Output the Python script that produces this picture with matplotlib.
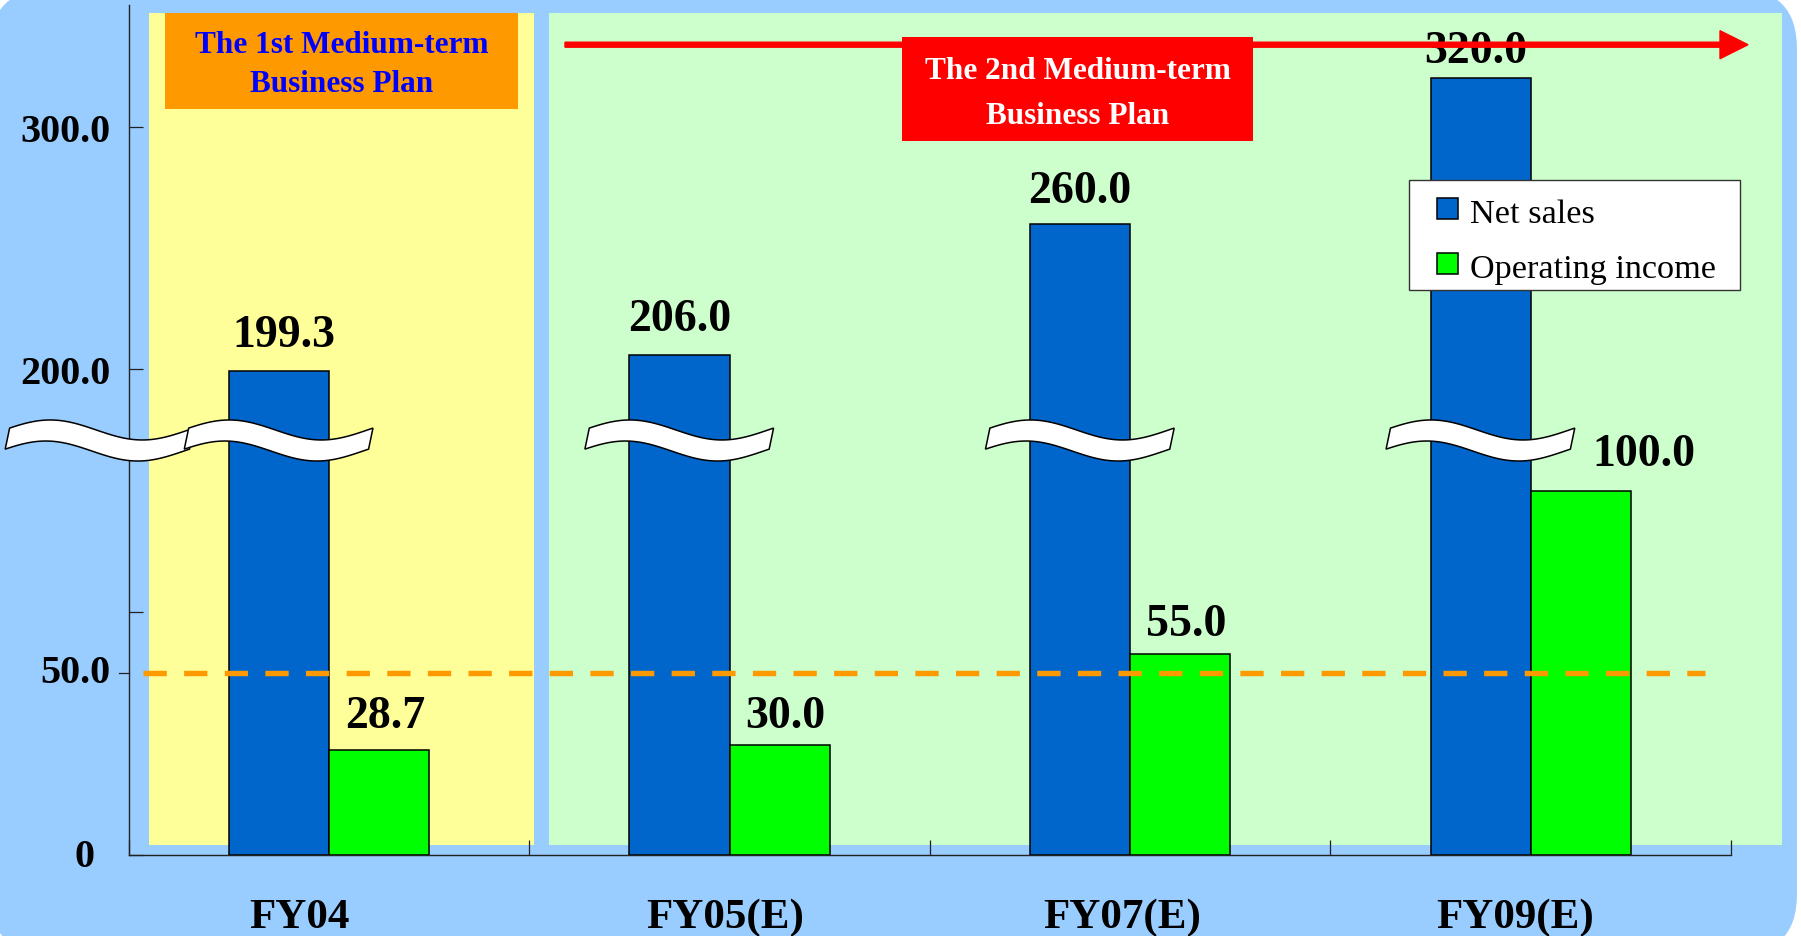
import numpy as np
import matplotlib
matplotlib.use("Agg")
import matplotlib.pyplot as plt
import matplotlib.patches as mpatches
import matplotlib.transforms as mtransforms

plt.rcParams['font.family'] = ['Liberation Serif', 'DejaVu Serif']

categories = ["FY04", "FY05(E)", "FY07(E)", "FY09(E)"]
net_sales = [199.3, 206.0, 260.0, 320.0]
operating_income = [28.7, 30.0, 55.0, 100.0]
income_scale = 1.5      # operating income is drawn 1.5x on the shared axis
income_ref = 50.0       # dashed reference level for operating income
y_ticks = [0, 100, 200, 300]
y_tick_labels = ["", "", "200.0", "300.0"]
series_names = ["Net sales", "Operating income"]
break_level = 175       # where the wavy break marks sit

BLUE_BG = "#99CCFF"
BAR_BLUE = "#0066CC"
BAR_GREEN = "#00FF00"
ORANGE = "#FF9900"
RED = "#FF0000"

W, H = 1801, 937
fig = plt.figure(figsize=(W / 100, H / 100), dpi=100, facecolor="white")
px = mtransforms.IdentityTransform()


def rect_px(x0, y0, x1, y1, color, z, edge="none", lw=0):
    # rectangle given in image pixels (origin top-left)
    fig.patches.append(mpatches.Rectangle((x0, H - y1), x1 - x0, y1 - y0, transform=px,
                                          facecolor=color, edgecolor=edge, linewidth=lw, zorder=z))


# rounded blue background
fig.patches.append(mpatches.FancyBboxPatch((-10, -18), 1807, 965, boxstyle="round,pad=0,rounding_size=60",
                                           transform=px, facecolor=BLUE_BG, edgecolor="none", zorder=-10))
rect_px(149, 14, 534, 846, "#FFFF99", -5)
rect_px(549, 14, 1782, 846, "#CCFFCC", -5)

ax = fig.add_axes([128.6 / W, (H - 855.7) / H, 1602.4 / W, 350 * 2.427 / H])
ax.patch.set_alpha(0)
x = np.arange(len(categories))
bw = 0.25
b1 = ax.bar(x - bw / 2, net_sales, bw, color=BAR_BLUE, edgecolor="black", linewidth=1.1, zorder=2)
b2 = ax.bar(x + bw / 2, np.array(operating_income) * income_scale, bw, color=BAR_GREEN,
            edgecolor="black", linewidth=1.1, zorder=2)
ax.set_xlim(-0.5, len(categories) - 0.5)
ax.set_ylim(0, 350)

for s in ["top", "right"]:
    ax.spines[s].set_visible(False)
for s in ["left", "bottom"]:
    ax.spines[s].set_linewidth(1.0)
    ax.spines[s].set_color("#222222")

ax.set_yticks(y_ticks)
ax.set_yticklabels(y_tick_labels, fontsize=29, fontweight="bold")
ax.tick_params(axis="y", direction="in", length=10, width=0.9, pad=12.7, color="#222222")
ax.set_xticks(np.arange(len(categories) + 1) - 0.5)
ax.set_xticklabels([])
ax.tick_params(axis="x", direction="in", length=11, width=0.9, color="#222222")

# y labels placed by hand
ax.annotate("0", xy=(0, 0), xycoords=("axes fraction", "data"), xytext=(-34, -2), textcoords="offset pixels",
            ha="right", va="center", fontsize=29, fontweight="bold")
ax.annotate("50.0", xy=(0, income_ref * income_scale), xycoords=("axes fraction", "data"), xytext=(-18, 0),
            textcoords="offset pixels", ha="right", va="center", fontsize=29, fontweight="bold")
blend = mtransforms.blended_transform_factory(ax.transAxes, ax.transData)
ax.plot([-10 / 1602.4, 0], [income_ref * income_scale] * 2, color="#222222", lw=0.9, transform=blend, clip_on=False)

# dashed reference line
ax.plot([-0.464, 3.435], [income_ref * income_scale] * 2, color=ORANGE, lw=3.9,
        linestyle=(0, (4.3, 3.2)), zorder=4)

# category labels
cat_dx = [-29, -4, -8, -16]
for i, c in enumerate(categories):
    ax.annotate(c, xy=(i, 0), xytext=(cat_dx[i], -72), textcoords="offset pixels", ha="center",
                va="baseline", fontsize=31, fontweight="bold", annotation_clip=False)

# value labels
sales_off = [(5, 25), (0, 25), (0, 22), (-5, 16)]
income_off = [(6, 23), (6, 18), (6, 19), (63, 26)]
for i, v in enumerate(net_sales):
    ax.annotate(f"{v:.1f}", xy=(x[i] - bw / 2, v), xytext=sales_off[i], textcoords="offset pixels",
                ha="center", va="baseline", fontsize=33, fontweight="bold", zorder=3)
for i, v in enumerate(operating_income):
    ax.annotate(f"{v:.1f}", xy=(x[i] + bw / 2, v * income_scale), xytext=income_off[i], textcoords="offset pixels",
                ha="center", va="baseline", fontsize=33, fontweight="bold", zorder=3)


# wavy break marks
def ribbon(x0, z):
    t = np.linspace(0, 1, 80)
    w = 0.46
    top_x = x0 + t * w
    top_y = break_level + 4.12 * np.cos(2 * np.pi * (t - 0.22))
    bot_x = top_x - 0.011
    bot_y = top_y - 8.67
    pts = np.vstack([np.column_stack([top_x, top_y]), np.column_stack([bot_x, bot_y])[::-1]])
    ax.add_patch(mpatches.Polygon(pts, closed=True, facecolor="white", edgecolor="black",
                                  linewidth=1.1, zorder=z, clip_on=False))


ribbon(-0.797, 5)
for i in x:
    ribbon(i - 0.35, 6)

# legend box
rect_px(1409, 181, 1740, 291, "white", 8, edge="#333333", lw=1.0)
for j, (name, col) in enumerate(zip(series_names, [BAR_BLUE, BAR_GREEN])):
    top = 199 + 55 * j
    rect_px(1437, top, 1458, top + 21, col, 9, edge="black", lw=1.1)
    fig.text(1470, H - (top + 24), name, transform=px, ha="left", va="baseline",
             fontsize=24.7, color="black", zorder=9)

# plan banners
rect_px(165, 14, 518, 110, ORANGE, 3)
fig.text(341.5, H - 53, "The 1st Medium-term", transform=px, ha="center", va="baseline",
         fontsize=22.5, fontweight="bold", color="#0000FF", zorder=4)
fig.text(341.5, H - 92, "Business Plan", transform=px, ha="center", va="baseline",
         fontsize=22.5, fontweight="bold", color="#0000FF", zorder=4)

fig.patches.append(mpatches.FancyArrow(565, H - 45.7, 1748 - 565, 0, width=5, head_width=28, head_length=28,
                                       length_includes_head=True, transform=px, color=RED, zorder=5))
rect_px(902, 38, 1253, 142, RED, 6)
fig.text(1077.5, H - 79, "The 2nd Medium-term", transform=px, ha="center", va="baseline",
         fontsize=22.5, fontweight="bold", color="white", zorder=7)
fig.text(1077.5, H - 124, "Business Plan", transform=px, ha="center", va="baseline",
         fontsize=22.5, fontweight="bold", color="white", zorder=7)

fig.savefig("out.png", dpi=100, facecolor=fig.get_facecolor())
